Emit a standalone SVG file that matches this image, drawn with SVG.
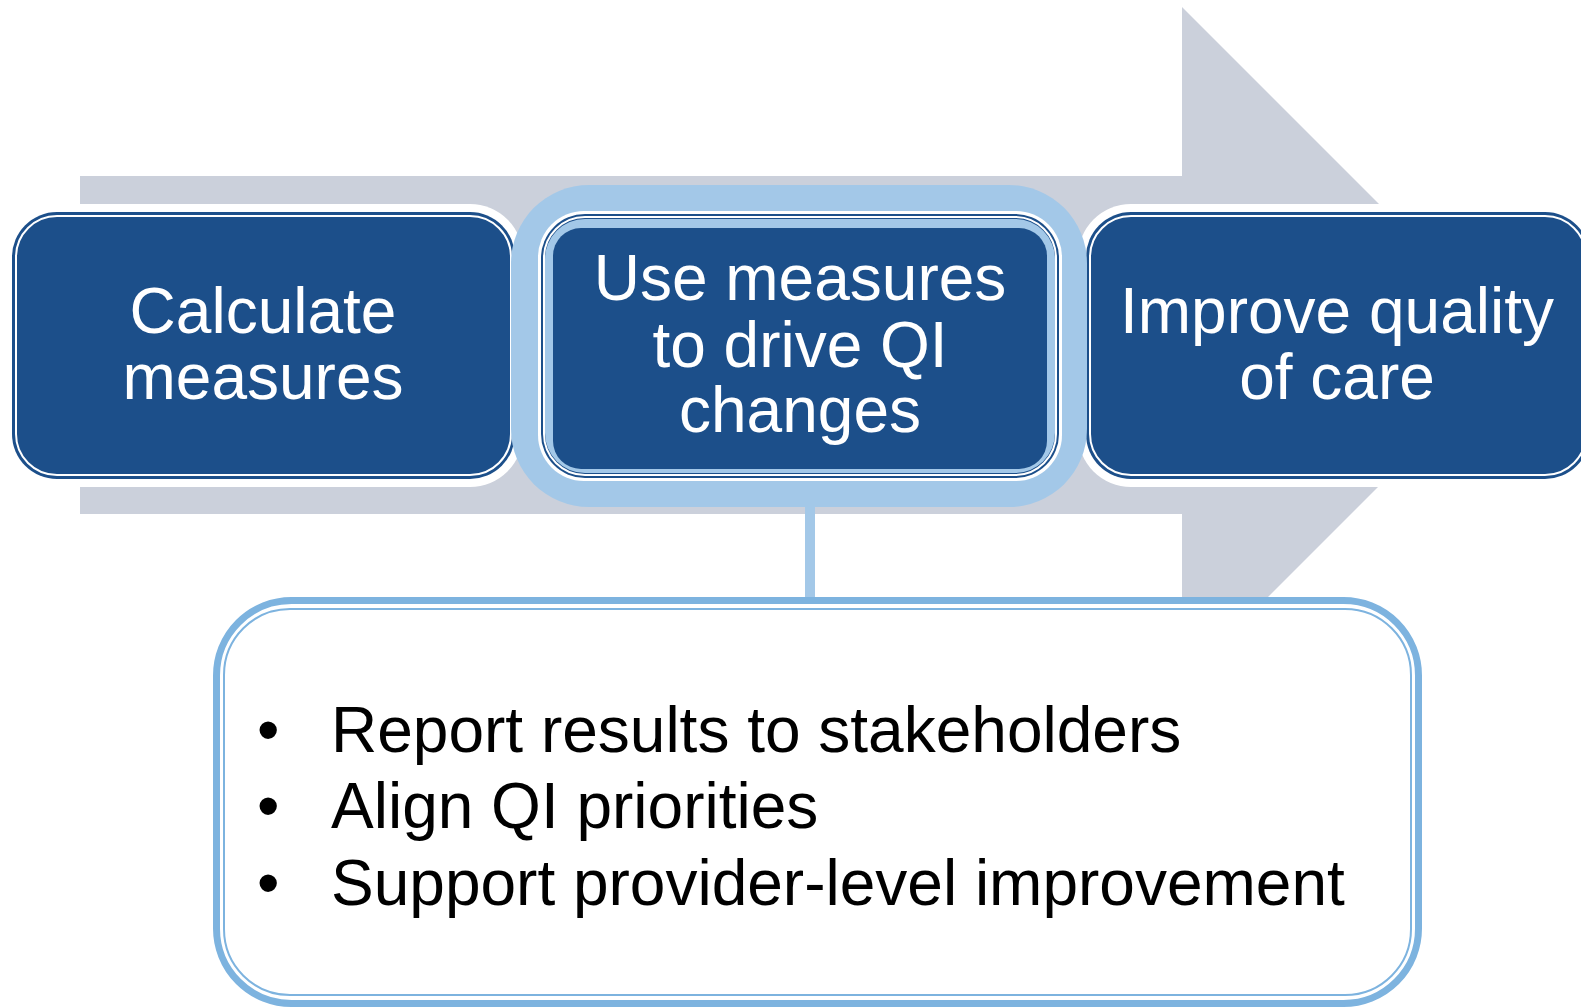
<svg xmlns="http://www.w3.org/2000/svg" width="1581" height="1007" viewBox="0 0 1581 1007">
<style>
.lbl{font-family:"Liberation Sans",Arial,sans-serif;font-size:64px;fill:#ffffff;text-anchor:middle}
.bul{font-family:"Liberation Sans",Arial,sans-serif;font-size:64px;fill:#000000}
.navy{fill:#1C4F8A}
.inl{fill:none;stroke:#ffffff;stroke-width:2}
.halo{fill:#ffffff}
</style>
<rect width="1581" height="1007" fill="#ffffff"/>
<g id="arrow">
<polygon points="80,176 1182,176 1182,7 1520,345 1182,683 1182,514 80,514" fill="#CBD0DB"/>
</g>
<g id="node-calculate">
<rect class="halo" x="4" y="204" width="519" height="283" rx="53"/>
<rect class="navy" x="12" y="212" width="503" height="267" rx="45"/>
<rect class="inl" x="16" y="216" width="495" height="259" rx="41"/>
<text class="lbl" x="263" y="333">Calculate</text>
<text class="lbl" x="263" y="399">measures</text>
</g>
<g id="node-improve">
<rect class="halo" x="1078" y="204" width="519" height="283" rx="53"/>
<rect class="navy" x="1086" y="212" width="504" height="267" rx="45"/>
<rect class="inl" x="1090" y="216" width="496" height="259" rx="41"/>
<text class="lbl" x="1337" y="333">Improve quality</text>
<text class="lbl" x="1337" y="399">of care</text>
</g>
<g id="node-use">
<rect x="511" y="185" width="576" height="322" rx="78" fill="#A3C8E8"/>
<rect class="halo" x="538" y="211" width="524" height="270" rx="46"/>
<rect class="navy" x="541" y="214" width="518" height="264" rx="44"/>
<rect class="inl" x="544" y="217" width="512" height="258" rx="41"/>
<rect x="545" y="219" width="510" height="254" rx="40" fill="#A3C8E8"/>
<rect class="navy" x="553" y="228" width="494" height="241" rx="28"/>
<text class="lbl" x="800" y="300">Use measures</text>
<text class="lbl" x="800" y="367">to drive QI</text>
<text class="lbl" x="800" y="432">changes</text>
</g>
<g id="connectors">
<line x1="810" y1="505" x2="810" y2="600" stroke="#A3C8E8" stroke-width="10"/>
</g>
<g id="node-details">
<rect x="216.5" y="600.5" width="1202" height="403" rx="75" fill="#ffffff" stroke="#7DB3DF" stroke-width="7"/>
<rect x="224" y="609" width="1187" height="386" rx="66" fill="none" stroke="#7DB3DF" stroke-width="2"/>
<text class="bul" x="257" y="752">•</text>
<text class="bul" x="331" y="752">Report results to stakeholders</text>
<text class="bul" x="257" y="828">•</text>
<text class="bul" x="331" y="828">Align QI priorities</text>
<text class="bul" x="257" y="905">•</text>
<text class="bul" x="331" y="905">Support provider-level improvement</text>
</g>
</svg>
